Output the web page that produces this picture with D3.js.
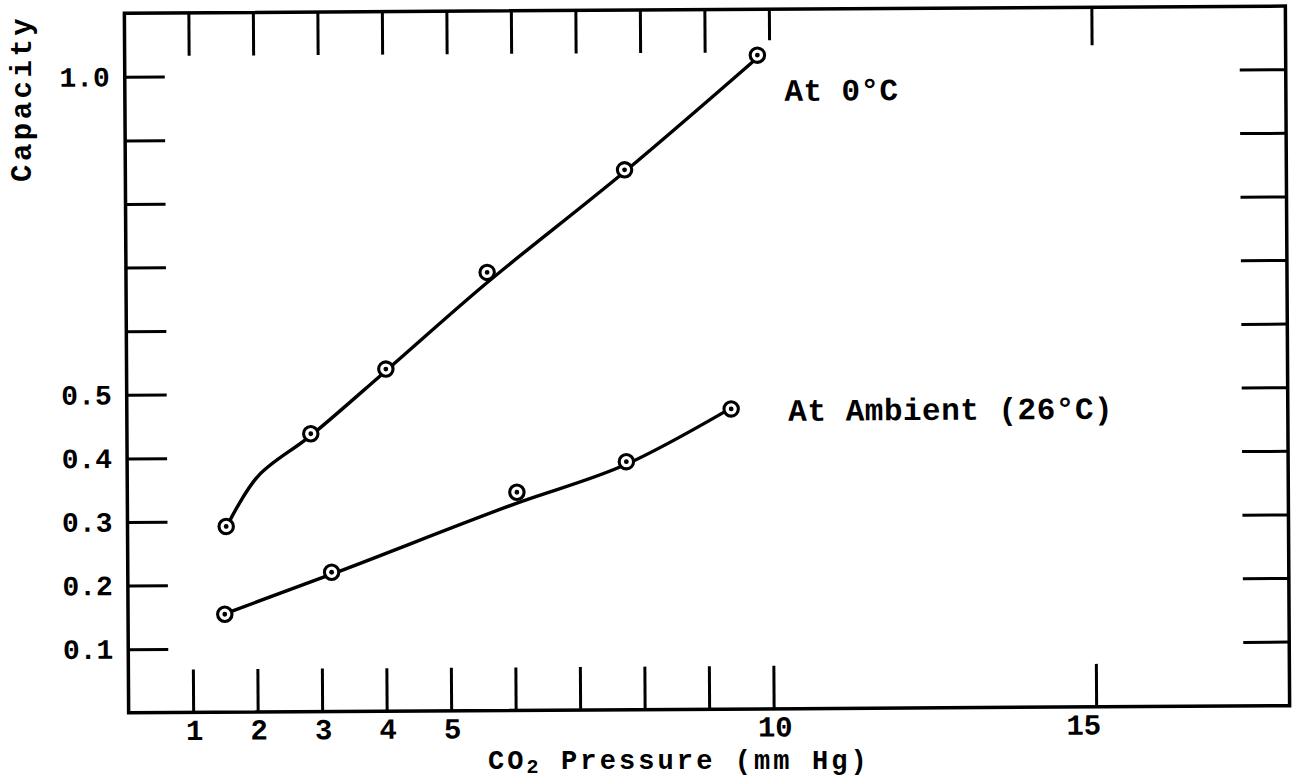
<!DOCTYPE html>
<html>
<head>
<meta charset="utf-8">
<script src="https://cdn.jsdelivr.net/npm/d3@7"></script>
<style>
  html, body { margin: 0; padding: 0; background: #fff; }
  svg { display: block; }
  text { font-family: "Liberation Mono", "DejaVu Sans Mono", monospace; fill: #000; }
</style>
</head>
<body>
<svg id="chart" width="1300" height="779"></svg>
<script>
// ---- data ----
const xDomain = [0, 18];
const yDomain = [0, 1.1];
const xTickValues = [1, 2, 3, 4, 5, 6, 7, 8, 9, 10, 15];
const xTickLabels = ["1", "2", "3", "4", "5", "", "", "", "", "10", "15"];
const yTickValues = [0.1, 0.2, 0.3, 0.4, 0.5, 0.6, 0.7, 0.8, 0.9, 1.0];
const yTickLabels = ["0.1", "0.2", "0.3", "0.4", "0.5", "", "", "", "", "1.0"];

// measured points (CO2 pressure, capacity)
const cold_x = [1.53, 2.85, 4.02, 5.60, 7.74, 9.81];
const cold_y = [0.292, 0.437, 0.538, 0.689, 0.849, 1.028];
const amb_x  = [1.50, 3.16, 6.04, 7.74, 9.37];
const amb_y  = [0.154, 0.219, 0.343, 0.390, 0.472];

// hand-drawn fitted curves
const coldFit_x = [1.58, 2.03, 2.85, 4.02, 5.60, 7.74, 9.81];
const coldFit_y = [0.300, 0.371, 0.434, 0.535, 0.673, 0.846, 1.024];
const ambFit_x  = [1.56, 3.16, 6.04, 7.74, 9.26];
const ambFit_y  = [0.157, 0.216, 0.326, 0.386, 0.467];

const seriesLabels = ["At 0°C", "At Ambient (26°C)"];
const xTitleMain = "CO", xTitleSub = "2", xTitleRest = " Pressure (mm Hg)";
const yTitle = "Capacity";

// ---- layout ----
const svg = d3.select("#chart");
const L = 126.5, R = L + 18 * 64.5, B = 711, T = 711 - 1.1 * 636;

const x = d3.scaleLinear().domain(xDomain).range([L, R]);
const y = d3.scaleLinear().domain(yDomain).range([B, T]);

// the scanned page is very slightly rotated
const g = svg.append("g")
  .attr("transform", "rotate(-0.35, 420, 361)");

// frame
g.append("rect")
  .attr("x", L).attr("y", T)
  .attr("width", R - L).attr("height", B - T)
  .attr("fill", "none").attr("stroke", "#000").attr("stroke-width", 3.5);

// bottom ticks & labels
const xb = d3.axisBottom(x).tickValues(xTickValues).tickSize(0)
  .tickFormat((d, i) => xTickLabels[i]).tickPadding(7);
const gxb = g.append("g").attr("transform", `translate(0,${B})`).call(xb);
gxb.select(".domain").remove();
gxb.selectAll("text").attr("font-size", 29).attr("font-weight", "bold")
  .attr("dx", d => d === 15 ? -13 : 1).attr("font-family", "Liberation Serif");
gxb.selectAll(".tick").append("line")
  .attr("y1", 0).attr("y2", -43)
  .attr("stroke", "#000").attr("stroke-width", 3);

// top ticks
const gxt = g.append("g").attr("transform", `translate(0,${T})`);
gxt.selectAll("line").data(xTickValues).join("line")
  .attr("x1", d => x(d)).attr("x2", d => x(d))
  .attr("y1", 0).attr("y2", d => d === 10 ? 31 : (d === 15 ? 38 : 43))
  .attr("stroke", "#000").attr("stroke-width", 3);

// left ticks & labels
const yl = d3.axisLeft(y).tickValues(yTickValues).tickSize(0)
  .tickFormat((d, i) => yTickLabels[i]).tickPadding(15);
const gyl = g.append("g").attr("transform", `translate(${L},0)`).call(yl);
gyl.select(".domain").remove();
gyl.selectAll("text").attr("font-size", 28).attr("font-weight", "bold")
  .attr("font-family", "Liberation Mono");
gyl.selectAll(".tick").append("line")
  .attr("x1", 0).attr("x2", 40)
  .attr("stroke", "#000").attr("stroke-width", 3);

// right ticks
const gyr = g.append("g").attr("transform", `translate(${R},0)`);
gyr.selectAll("line").data(yTickValues).join("line")
  .attr("x1", 0).attr("x2", -46)
  .attr("y1", d => y(d)).attr("y2", d => y(d))
  .attr("stroke", "#000").attr("stroke-width", 3);

// curves
const coldLine = d3.line().x(d => x(d[0])).y(d => y(d[1])).curve(d3.curveCatmullRom.alpha(0.5));
const ambLine = d3.line().x(d => x(d[0])).y(d => y(d[1])).curve(d3.curveMonotoneX);
const coldFit = coldFit_x.map((v, i) => [v, coldFit_y[i]]);
const ambFit = ambFit_x.map((v, i) => [v, ambFit_y[i]]);
g.append("path").datum(coldFit).attr("d", coldLine)
  .attr("fill", "none").attr("stroke", "#000").attr("stroke-width", 3.4)
  .attr("stroke-linecap", "round");
g.append("path").datum(ambFit).attr("d", ambLine)
  .attr("fill", "none").attr("stroke", "#000").attr("stroke-width", 3.4)
  .attr("stroke-linecap", "round");

// markers
const cold = cold_x.map((v, i) => [v, cold_y[i]]);
const amb = amb_x.map((v, i) => [v, amb_y[i]]);
const allPts = cold.concat(amb);
const mk = g.append("g").selectAll("g").data(allPts).join("g")
  .attr("transform", d => `translate(${x(d[0])},${y(d[1])})`);
mk.append("circle").attr("r", 7.2).attr("fill", "#fff")
  .attr("stroke", "#000").attr("stroke-width", 3.1);
mk.append("circle").attr("r", 2.4).attr("fill", "#000");

// series labels
g.append("text").attr("x", 786).attr("y", 103)
  .attr("font-size", 31).attr("font-weight", "bold").attr("letter-spacing", 0.4)
  .text(seriesLabels[0]);
g.append("text").attr("x", 788).attr("y", 423)
  .attr("font-size", 31).attr("font-weight", "bold").attr("letter-spacing", 0.5)
  .text(seriesLabels[1]);

// axis titles
const xt = svg.append("text").attr("x", 488).attr("y", 769)
  .attr("font-size", 27).attr("font-weight", "bold").attr("letter-spacing", 3.1);
xt.append("tspan").text(xTitleMain);
xt.append("tspan").attr("font-size", 20).attr("dy", 4).text(xTitleSub);
xt.append("tspan").attr("dy", -4).text(xTitleRest);

svg.append("text")
  .attr("transform", "translate(31,182) rotate(-90)")
  .attr("font-size", 29).attr("font-weight", "bold").attr("letter-spacing", 3.5)
  .text(yTitle);
</script>
</body>
</html>
